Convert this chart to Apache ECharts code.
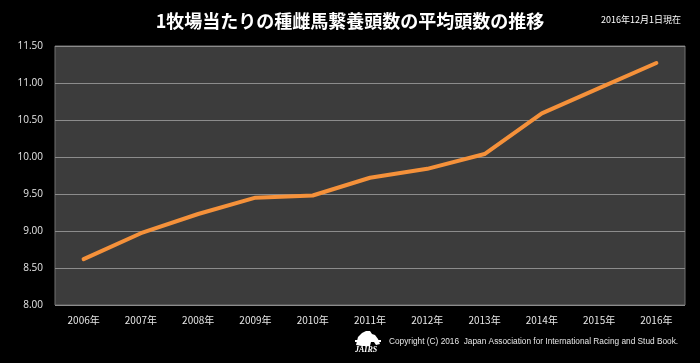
<!DOCTYPE html>
<html>
<head>
<meta charset="utf-8">
<script src="https://cdn.jsdelivr.net/npm/echarts@6/dist/echarts.min.js"></script>
<style>
html,body{margin:0;padding:0;background:#000;}
#c{width:700px;height:363px;}
</style>
</head>
<body>
<div id="c"></div>
<script>
const categories = ['2006年','2007年','2008年','2009年','2010年','2011年','2012年','2013年','2014年','2015年','2016年'];
const averageHead = [8.62, 8.97, 9.23, 9.45, 9.48, 9.72, 9.84, 10.04, 10.59, 10.93, 11.27];
const yTicks = { min: 8, max: 11.5, interval: 0.5 };
const titleText = '1牧場当たりの種雌馬繋養頭数の平均頭数の推移';
const dateNote = '2016年12月1日現在';
const copyright = 'Copyright (C) 2016  Japan Association for International Racing and Stud Book.';

const chart = echarts.init(document.getElementById('c'), null, {renderer:'canvas'});
chart.setOption({
  backgroundColor: '#000',
  animation: false,
  title: {
    text: titleText,
    left: 'center',
    top: 7,
    textStyle: { color: '#fff', fontSize: 18, fontWeight: 'bold', fontFamily: '"Noto Sans CJK JP"' }
  },
  grid: {
    left: 55, right: 15, top: 46, bottom: 58,
    show: true, backgroundColor: '#3c3c3c', borderColor: '#707070', borderWidth: 1
  },
  xAxis: {
    type: 'category',
    data: categories,
    boundaryGap: true,
    axisLine: { show: false },
    axisTick: { show: false },
    axisLabel: { color: '#e6e6e6', fontSize: 10, margin: 10, fontFamily: '"Noto Sans CJK JP"' }
  },
  yAxis: {
    type: 'value',
    min: yTicks.min, max: yTicks.max, interval: yTicks.interval,
    axisLine: { show: false },
    axisTick: { show: false },
    splitLine: { lineStyle: { color: '#8c8c8c', width: 1 } },
    axisLabel: { color: '#e6e6e6', fontSize: 10, margin: 12, fontFamily: '"Open Sans"', formatter: v => v.toFixed(2) }
  },
  series: [{
    type: 'line',
    data: averageHead,
    symbol: 'none',
    lineStyle: { color: '#F5913A', width: 4, cap: 'round', join: 'round' }
  }],
  graphic: [
    { type: 'text', left: 601, top: 15, style: { text: dateNote, fill: '#fff', fontSize: 9, fontFamily: '"Noto Sans CJK JP"' } },
    { type: 'text', left: 389, top: 338, style: { text: copyright, fill: '#e6e6e6', fontSize: 8.3, fontFamily: '"Liberation Sans Narrow", "Liberation Sans"' } },
    { type: 'group', left: 355, top: 331, children: [
      { type: 'polygon', shape: { points: [[3,15],[5,7],[9,3],[13,1],[17,1],[19,4],[22,5],[25,9],[27,14],[23,15],[21,12],[18,12],[17,16],[9,16]] }, style: { fill: '#fff' } },
      { type: 'rect', shape: { x: 2, y: 10, width: 26, height: 2 }, style: { fill: '#fff' } },
      { type: 'text', x: 2, y: 16, style: { text: 'JAIRS', fill: '#fff', fontSize: 8, fontStyle: 'italic', fontWeight: 'bold', fontFamily: '"Liberation Serif"' } }
    ]}
  ]
});
</script>
</body>
</html>
